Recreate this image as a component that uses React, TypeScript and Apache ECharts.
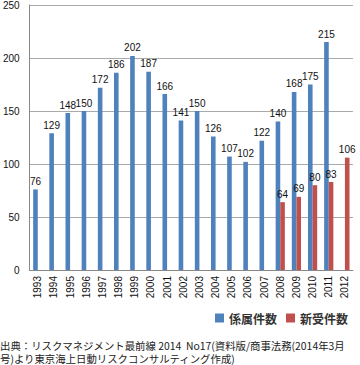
import React, { useEffect, useRef } from "react";
import * as echarts from "echarts";

const years = ["1993","1994","1995","1996","1997","1998","1999","2000","2001","2002","2003","2004","2005","2006","2007","2008","2009","2010","2011","2012"];
const pending = [76,129,148,150,172,186,202,187,166,141,150,126,107,102,122,140,168,175,215,null];
const newCases = [null,null,null,null,null,null,null,null,null,null,null,null,null,null,null,64,69,80,83,106];
const yTicks = { min: 0, max: 250, interval: 50 };
const sourceLines = [
  "出典：リスクマネジメント最前線 2014  No17(資料版/商事法務(2014年3月",
  "号)より東京海上日動リスクコンサルティング作成)",
];

const FONT = "'Liberation Sans', 'Noto Sans CJK JP', sans-serif";
const JP = "'Noto Sans CJK JP', sans-serif";

export default function App() {
  const ref = useRef<HTMLDivElement>(null);
  useEffect(() => {
    if (!ref.current) return;
    const chart = echarts.init(ref.current, null, { renderer: "svg" });
    const label = { show: true, position: "top", distance: 3, fontSize: 10, color: "#111", fontFamily: FONT };
    chart.setOption({
      animation: false,
      textStyle: { fontFamily: FONT },
      grid: { left: 27, right: 7, top: 4, bottom: 95, containLabel: false },
      legend: {
        right: 12,
        top: 312,
        padding: 0,
        itemWidth: 9,
        itemHeight: 9,
        itemGap: 9,
        icon: "rect",
        textStyle: { fontSize: 12, fontWeight: "bold", color: "#333", fontFamily: JP, padding: [0, 0, 0, 0] },
        data: ["係属件数", "新受件数"],
      },
      xAxis: {
        type: "category",
        data: years,
        axisLine: { lineStyle: { color: "#888" } },
        axisTick: { show: false },
        axisLabel: { rotate: 90, fontSize: 10, color: "#111", margin: 6, interval: 0 },
      },
      yAxis: {
        type: "value",
        min: yTicks.min,
        max: yTicks.max,
        interval: yTicks.interval,
        axisLine: { show: true, lineStyle: { color: "#888" } },
        axisTick: { show: false },
        axisLabel: { fontSize: 10, color: "#111", margin: 10 },
        splitLine: { lineStyle: { color: "#aaa" } },
      },
      series: [
        { name: "係属件数", type: "bar", data: pending, barWidth: 4.6, barGap: "0%", itemStyle: { color: "#4F81BD" }, label },
        { name: "新受件数", type: "bar", data: newCases, barWidth: 4.6, barGap: "0%", itemStyle: { color: "#C0504D" }, label },
      ],
      graphic: [
        {
          type: "text",
          left: 0,
          top: 338.5,
          style: { text: sourceLines.join("\n"), fontSize: 10.4, lineHeight: 13.5, fill: "#222", fontFamily: JP },
        },
      ],
    });
    return () => chart.dispose();
  }, []);
  return <div ref={ref} style={{ position: "absolute", left: 0, top: 0, width: 360, height: 365 }} />;
}
